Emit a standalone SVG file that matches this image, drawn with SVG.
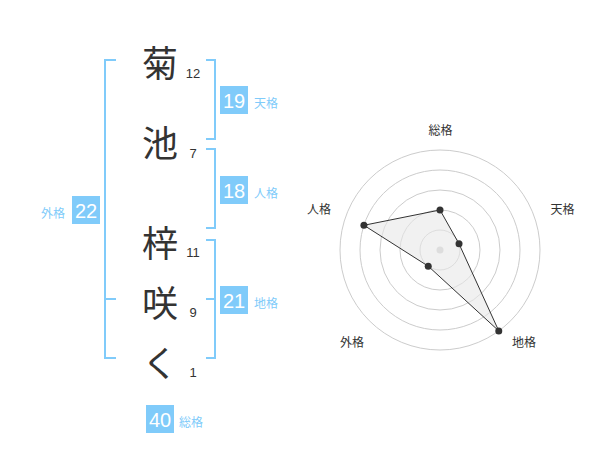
<svg xmlns="http://www.w3.org/2000/svg" width="600" height="470" viewBox="0 0 600 470">
<style>
.kanji{font-family:"Noto Sans CJK JP","Noto Sans CJK SC",sans-serif;font-size:36px;fill:#333;text-anchor:middle}
.num{font-family:"Liberation Sans",Arial,sans-serif;font-size:13px;fill:#333;text-anchor:middle}
.br{fill:none;stroke:#80cbfa;stroke-width:2}
.box{fill:#80cbfa}
.bnum{font-family:"Liberation Sans",Arial,sans-serif;font-size:20px;fill:#fff;text-anchor:middle}
.blab{font-family:"Noto Sans CJK JP","Noto Sans CJK SC",sans-serif;font-size:12px;fill:#80cbfa}
.ring{fill:none;stroke:#ccc;stroke-width:1}
.rlab{font-family:"Noto Sans CJK JP","Noto Sans CJK SC",sans-serif;font-size:12px;fill:#333;text-anchor:middle}
.dot{fill:#333}
</style>
<rect width="600" height="470" fill="#fff"/>
<g id="chars">
<g id="c1"><text class="kanji" x="160" y="77">菊</text><text class="num" x="193" y="78">12</text></g>
<g id="c2"><text class="kanji" x="160" y="157">池</text><text class="num" x="193" y="158">7</text></g>
<g id="c3"><text class="kanji" x="160" y="257">梓</text><text class="num" x="193" y="257">11</text></g>
<g id="c4"><text class="kanji" x="160" y="317">咲</text><text class="num" x="193" y="317">9</text></g>
<g id="c5"><text class="kanji" x="160" y="377">く</text><text class="num" x="193" y="377">1</text></g>
</g>
<g id="connectors">
<path class="br" d="M116,60 H105 V358 H116 M105,299 H116"/>
<path class="br" d="M206,60 H215 V139 H206"/>
<path class="br" d="M206,149 H215 V228 H206"/>
<path class="br" d="M206,240 H215 V358 H206 M206,299 H215"/>
</g>
<g id="tenkaku"><rect class="box" x="220" y="86" width="28" height="28"/><text class="bnum" x="234" y="107.5">19</text><text class="blab" x="254" y="108">天格</text></g>
<g id="jinkaku"><rect class="box" x="220" y="176" width="28" height="28"/><text class="bnum" x="234" y="197.5">18</text><text class="blab" x="254" y="198">人格</text></g>
<g id="chikaku"><rect class="box" x="220" y="286" width="28" height="28"/><text class="bnum" x="234" y="307.5">21</text><text class="blab" x="254" y="308">地格</text></g>
<g id="gaikaku"><rect class="box" x="72" y="196" width="28" height="28"/><text class="bnum" x="86" y="217.5">22</text><text class="blab" x="41" y="218">外格</text></g>
<g id="soukaku"><rect class="box" x="146" y="405" width="28" height="28"/><text class="bnum" x="160" y="426.5">40</text><text class="blab" x="179" y="427">総格</text></g>
<g id="radar">
<circle class="ring" cx="440" cy="250" r="20"/>
<circle class="ring" cx="440" cy="250" r="40"/>
<circle class="ring" cx="440" cy="250" r="60"/>
<circle class="ring" cx="440" cy="250" r="80"/>
<circle class="ring" cx="440" cy="250" r="100"/>
<circle cx="440" cy="250" r="3.5" fill="#ccc"/>
<polygon points="440,210 459.02,243.82 498.78,330.9 428.24,266.18 363.92,225.28" fill="#e8e8e8" fill-opacity="0.6" stroke="#333" stroke-width="1"/>
<circle class="dot" cx="440" cy="210" r="3.5"/>
<circle class="dot" cx="459.02" cy="243.82" r="3.5"/>
<circle class="dot" cx="498.78" cy="330.9" r="3.5"/>
<circle class="dot" cx="428.24" cy="266.18" r="3.5"/>
<circle class="dot" cx="363.92" cy="225.28" r="3.5"/>
<text class="rlab" x="440.5" y="135">総格</text>
<text class="rlab" x="562.5" y="214">天格</text>
<text class="rlab" x="524" y="347">地格</text>
<text class="rlab" x="352" y="347">外格</text>
<text class="rlab" x="319" y="214">人格</text>
</g>
</svg>
